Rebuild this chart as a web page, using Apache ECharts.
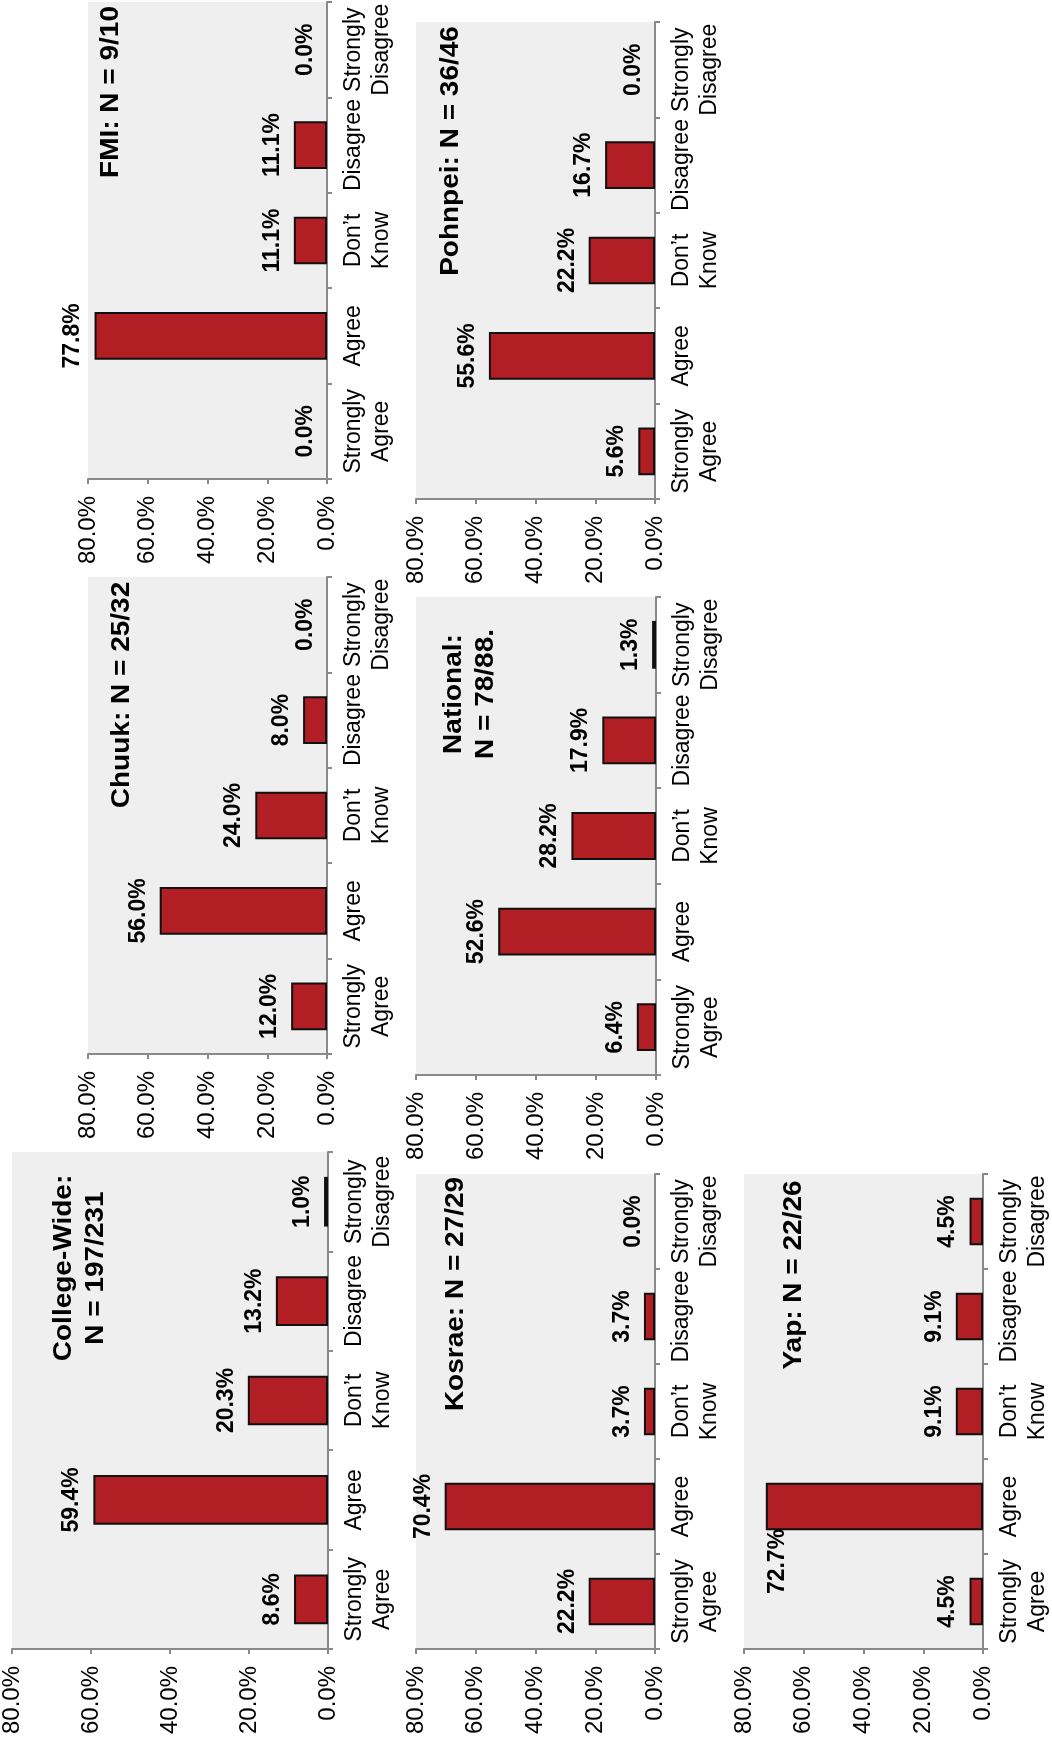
<!DOCTYPE html>
<html><head><meta charset="utf-8">
<script src="https://cdn.jsdelivr.net/npm/echarts@6/dist/echarts.min.js"></script>
<style>html,body{margin:0;padding:0;background:#fff}#c{width:1052px;height:1750px}</style>
</head><body><div id="c"></div>
<script>
// ---- data ----
const categories = ['Strongly\nAgree', 'Agree', 'Don\u2019t\nKnow', 'Disagree', 'Strongly\nDisagree'];
const valueTicks = [0, 20, 40, 60, 80];
const fmiValues = [0.0, 77.8, 11.1, 11.1, 0.0];
const pohnpeiValues = [5.6, 55.6, 22.2, 16.7, 0.0];
const chuukValues = [12.0, 56.0, 24.0, 8.0, 0.0];
const nationalValues = [6.4, 52.6, 28.2, 17.9, 1.3];
const collegeValues = [8.6, 59.4, 20.3, 13.2, 1.0];
const kosraeValues = [22.2, 70.4, 3.7, 3.7, 0.0];
const yapValues = [4.5, 72.7, 9.1, 9.1, 4.5];
const panelTitles = ['FMI: N = 9/10', 'Pohnpei: N = 36/46', 'Chuuk: N = 25/32', 'National:\nN = 78/88.',
  'College-Wide:\nN = 197/231', 'Kosrae: N = 27/29', 'Yap: N = 22/26'];
const panelValues = [fmiValues, pohnpeiValues, chuukValues, nationalValues, collegeValues, kosraeValues, yapValues];

// ---- layout ----
const grids = [
  {left: 88, top: 2, width: 239, height: 477},
  {left: 416, top: 22, width: 239, height: 477},
  {left: 88, top: 577, width: 239, height: 477},
  {left: 416, top: 597, width: 240, height: 478},
  {left: 12, top: 1152, width: 316, height: 497},
  {left: 416, top: 1174, width: 239, height: 475},
  {left: 744, top: 1174, width: 239, height: 475}
];
const titlePos = [[111, 92], [451, 151], [122, 695], [470, 694], [80, 1268], [456, 1294], [794, 1275]];
const labelShift = {6: {1: [-55, 33]}};

const FONT = '"Liberation Sans", Arial, sans-serif';
const AX = '#8a8a8a';
const chart = echarts.init(document.getElementById('c'));

const option = {
  backgroundColor: '#ffffff',
  animation: false,
  grid: grids.map(g => Object.assign({show: true, backgroundColor: '#eeefee', borderWidth: 0, containLabel: false}, g)),
  xAxis: grids.map((g, i) => ({
    gridIndex: i, type: 'value', inverse: true, position: 'bottom',
    min: valueTicks[0], max: valueTicks[valueTicks.length - 1], interval: valueTicks[1] - valueTicks[0],
    splitLine: {show: false},
    axisLine: {show: true, lineStyle: {color: AX, width: 2}},
    axisTick: {show: true, length: 5, lineStyle: {color: AX, width: 2}},
    axisLabel: {rotate: 90, margin: 17, fontSize: 24, color: '#000', fontFamily: FONT,
      formatter: v => v.toFixed(1) + '%'}
  })),
  yAxis: grids.map((g, i) => ({
    gridIndex: i, type: 'category', position: 'right', data: categories,
    axisLine: {show: true, lineStyle: {color: AX, width: 2}},
    axisTick: {show: true, length: 5, lineStyle: {color: AX, width: 2}},
    axisLabel: {rotate: 90, interval: 0, margin: 13, fontSize: 23, lineHeight: 28, color: '#000', fontFamily: FONT}
  })),
  series: panelValues.map((vals, i) => ({
    type: 'bar', xAxisIndex: i, yAxisIndex: i, barWidth: '50%',
    data: vals.map((v, j) => {
      const item = {value: v};
      const sh = labelShift[i] && labelShift[i][j];
      if (sh) item.label = {offset: sh};
      if (v === 0) item.itemStyle = {borderWidth: 0};
      return item;
    }),
    itemStyle: {color: '#b11e24', borderColor: '#111', borderWidth: 2},
    label: {show: true, position: 'left', distance: 10, rotate: 90, align: 'center', verticalAlign: 'bottom',
      fontSize: 23, fontWeight: 'bold', color: '#000', fontFamily: FONT,
      formatter: p => Number(p.value).toFixed(1) + '%'}
  })),
  graphic: panelTitles.map((t, i) => ({
    type: 'text', x: titlePos[i][0], y: titlePos[i][1], rotation: Math.PI / 2, scaleY: 0.9, z: 100,
    style: {text: t, fontSize: 28, fontWeight: 'bold', fontFamily: FONT, fill: '#000',
      align: 'center', verticalAlign: 'middle', lineHeight: 35}
  }))
};
chart.setOption(option);
</script>
</body></html>
